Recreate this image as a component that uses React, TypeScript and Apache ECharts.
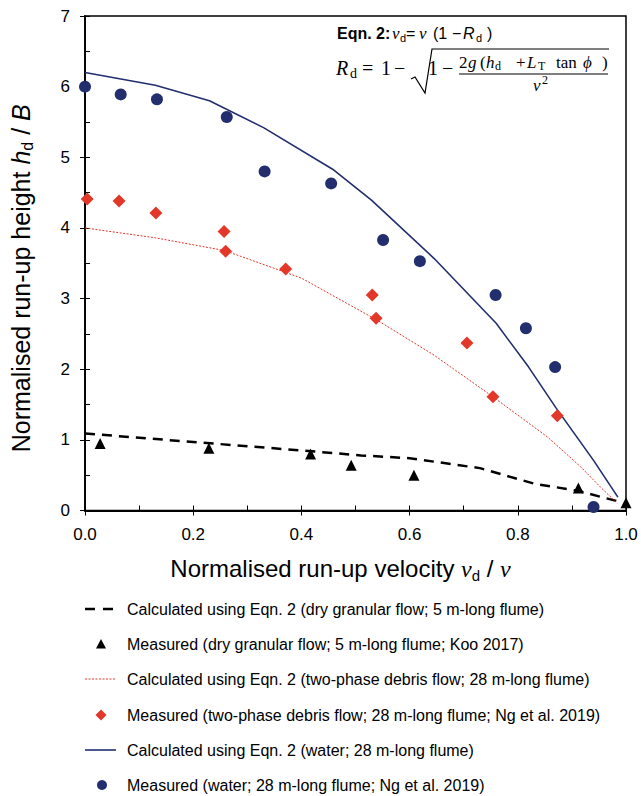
import React, { useEffect, useRef } from "react";
import * as echarts from "echarts";

// ---- data ----
const dryCalcX = [0, 0.2, 0.4, 0.51, 0.6, 0.73, 0.83, 0.91, 0.99];
const dryCalcY = [1.09, 0.97, 0.85, 0.78, 0.74, 0.6, 0.38, 0.28, 0.12];

const dryMeasX = [0.028, 0.229, 0.417, 0.492, 0.608, 0.912, 1.0];
const dryMeasY = [0.95, 0.88, 0.8, 0.64, 0.5, 0.32, 0.11];

const debrisCalcX = [0, 0.13, 0.258, 0.4, 0.541, 0.645, 0.754, 0.855, 0.916, 0.953, 0.984];
const debrisCalcY = [4.0, 3.86, 3.68, 3.29, 2.69, 2.2, 1.61, 1.04, 0.62, 0.33, 0.1];

const debrisMeasX = [0.004, 0.063, 0.131, 0.257, 0.26, 0.371, 0.531, 0.538, 0.706, 0.754, 0.873];
const debrisMeasY = [4.41, 4.38, 4.21, 3.95, 3.67, 3.42, 3.05, 2.72, 2.37, 1.61, 1.34];

const waterCalcX = [0, 0.13, 0.23, 0.33, 0.46, 0.53, 0.645, 0.76, 0.82, 0.87, 0.94, 0.985];
const waterCalcY = [6.2, 6.02, 5.8, 5.42, 4.82, 4.39, 3.57, 2.65, 2.03, 1.46, 0.71, 0.19];

const waterMeasX = [0, 0.066, 0.133, 0.262, 0.332, 0.455, 0.551, 0.619, 0.759, 0.815, 0.869, 0.94];
const waterMeasY = [6.0, 5.89, 5.82, 5.57, 4.8, 4.63, 3.83, 3.53, 3.05, 2.58, 2.03, 0.05];

const seriesNames = [
  "Calculated using Eqn. 2 (dry granular flow; 5 m-long flume)",
  "Measured (dry granular flow; 5 m-long flume; Koo 2017)",
  "Calculated using Eqn. 2 (two-phase debris flow; 28 m-long flume)",
  "Measured (two-phase debris flow; 28 m-long flume; Ng et al. 2019)",
  "Calculated using Eqn. 2 (water; 28 m-long flume)",
  "Measured (water; 28 m-long flume; Ng et al. 2019)",
];

const xRange = [0, 1];
const xStep = 0.2;
const yRange = [0, 7];
const yStep = 1;

const zip = (xs: number[], ys: number[]) => xs.map((x, i) => [x, ys[i]]);

const SANS = "'Liberation Sans', Arial, sans-serif";
const SERIF = "'Liberation Serif', 'DejaVu Serif', serif";
const NAVY = "#222e6e";
const RED = "#e2382a";

type Piece = [string, number, number, number, string?];

function textPieces(pieces: Piece[]) {
  return pieces.map(([t, x, y, size, st]) => {
    const s = st || "";
    const fam = s.includes("sans") ? SANS : SERIF;
    return {
      type: "text",
      x,
      y,
      style: {
        text: `{a|${t}}`,
        verticalAlign: "middle",
        align: "left",
        rich: {
          a: {
            fill: "#000",
            fontSize: size,
            fontFamily: fam,
            fontStyle: s.startsWith("i") ? "italic" : "normal",
            fontWeight: s.startsWith("b") ? "bold" : "normal",
          },
        },
      },
    };
  });
}

export default function App() {
  const ref = useRef<HTMLDivElement>(null);
  useEffect(() => {
    if (!ref.current) return;
    const chart = echarts.init(ref.current, null, { renderer: "svg" });

    const subRich = (size: number) => ({
      fontSize: size,
      verticalAlign: "bottom",
      lineHeight: Math.round(size * 0.75),
      fontFamily: SANS,
      color: "#000",
    });

    const baseAxis = { type: "value", splitLine: { show: false } };

    // equation pieces: [text, x, y(middle), size, style]
    const eqLine1: Piece[] = [
      ["Eqn. 2:", 337, 33, 16, "bsans"],
      ["ν", 392, 33, 17, "i"],
      ["d", 400, 38, 11, "sans"],
      ["=", 406, 33, 16, "sans"],
      ["ν", 419, 33, 17, "i"],
      ["(1", 433, 33, 16, "sans"],
      ["−", 452, 33, 16, "sans"],
      ["R", 463, 33, 16, "isans"],
      ["d", 476, 38, 11, "sans"],
      [")", 487, 33, 16, "sans"],
    ];
    const eqLine2: Piece[] = [
      ["R", 336, 68, 20, "i"],
      ["d", 350, 73, 14, ""],
      ["=", 362, 68, 20, ""],
      ["1", 381, 68, 20, ""],
      ["−", 394, 68, 20, ""],
      ["1", 428, 68, 20, ""],
      ["−", 442, 68, 20, ""],
      ["2", 459, 62, 17, ""],
      ["g", 468, 62, 17, "i"],
      ["(", 480, 62, 17, ""],
      ["h", 486, 62, 17, "i"],
      ["d", 495, 66, 12, ""],
      ["+", 516, 62, 17, ""],
      ["L", 527, 62, 17, "i"],
      ["T", 538, 66, 12, ""],
      ["tan", 556, 62, 17, ""],
      ["ϕ", 583, 62, 17, "i"],
      [")", 602, 62, 17, ""],
      ["ν", 533, 85, 17, "i"],
      ["2", 542, 80, 12, ""],
    ];

    // custom legend rows (y centres)
    const legendRows = [609, 644, 679, 715, 750, 785];
    const legendTextX = 127;
    const legendGraphics: any[] = [];
    seriesNames.forEach((name, i) => {
      legendGraphics.push({
        type: "text",
        x: legendTextX,
        y: legendRows[i],
        style: {
          text: name,
          fill: "#000",
          font: `16px ${SANS}`,
          verticalAlign: "middle",
        },
      });
    });
    const ly = legendRows;
    legendGraphics.push(
      {
        type: "line",
        shape: { x1: 85, y1: ly[0], x2: 114, y2: ly[0] },
        style: { stroke: "#000", lineWidth: 2.5, lineDash: [10, 8] },
      },
      {
        type: "polygon",
        shape: { points: [[96, ly[1] + 4.5], [101, ly[1] - 5], [106, ly[1] + 4.5]] },
        style: { fill: "#000" },
      },
      {
        type: "line",
        shape: { x1: 85, y1: ly[2], x2: 115, y2: ly[2] },
        style: { stroke: RED, lineWidth: 1, lineDash: [2, 1.5] },
      },
      {
        type: "polygon",
        shape: { points: [[101, ly[3] - 5.5], [106.5, ly[3]], [101, ly[3] + 5.5], [95.5, ly[3]]] },
        style: { fill: RED },
      },
      {
        type: "line",
        shape: { x1: 85, y1: ly[4], x2: 116, y2: ly[4] },
        style: { stroke: NAVY, lineWidth: 1.6 },
      },
      {
        type: "circle",
        shape: { cx: 102, cy: ly[5], r: 5 },
        style: { fill: NAVY },
      }
    );

    const option: any = {
      animation: false,
      backgroundColor: "#fff",
      grid: {
        left: 83,
        right: 15,
        top: 16,
        bottom: 285.5,
        show: true,
        borderColor: "#000",
        borderWidth: 1.5,
      },
      xAxis: [
        {
          ...baseAxis,
          min: xRange[0],
          max: xRange[1],
          interval: xStep,
          position: "bottom",
          axisLine: { show: true, lineStyle: { color: "#000", width: 1.8 } },
          axisTick: { show: true, inside: false, length: 5, lineStyle: { color: "#000", width: 1 } },
          axisLabel: {
            margin: 15,
            fontSize: 17,
            color: "#000",
            fontFamily: SANS,
            formatter: (v: number) => v.toFixed(1),
          },
          name: "{n|Normalised run-up velocity }{i|ν}{s|d}{n| / }{i|ν}",
          nameLocation: "middle",
          nameGap: 44,
          nameTextStyle: {
            padding: [0, 30, 0, 0],
            rich: {
              n: { fontSize: 24, fontFamily: SANS, color: "#000", lineHeight: 28 },
              i: { fontSize: 24, fontFamily: SERIF, fontStyle: "italic", color: "#000", lineHeight: 28 },
              s: subRich(15),
            },
          },
        },
        {
          ...baseAxis,
          min: xRange[0],
          max: xRange[1],
          interval: xStep,
          position: "bottom",
          axisLine: { show: false },
          axisLabel: { show: false },
          axisTick: { show: true, inside: true, length: 5, lineStyle: { color: "#000", width: 1 } },
          minorTick: { show: true, splitNumber: 2, length: 5, lineStyle: { color: "#000", width: 1 } },
        },
      ],
      yAxis: [
        {
          ...baseAxis,
          min: yRange[0],
          max: yRange[1],
          interval: yStep,
          position: "left",
          axisLine: { show: true, lineStyle: { color: "#000", width: 1.8 } },
          axisTick: { show: true, inside: false, length: 5, lineStyle: { color: "#000", width: 1 } },
          axisLabel: { margin: 15, fontSize: 17, color: "#000", fontFamily: SANS },
          name: "{n|Normalised run-up height }{ia|h}{s|d}{n| / }{ia|B}",
          nameLocation: "middle",
          nameGap: 50,
          nameTextStyle: {
            padding: [0, 30, 0, 0],
            rich: {
              n: { fontSize: 25, fontFamily: SANS, color: "#000", lineHeight: 29 },
              ia: { fontSize: 25, fontFamily: SANS, fontStyle: "italic", color: "#000", lineHeight: 29 },
              s: subRich(16),
            },
          },
        },
        {
          ...baseAxis,
          min: yRange[0],
          max: yRange[1],
          interval: yStep,
          position: "left",
          axisLine: { show: false },
          axisLabel: { show: false },
          axisTick: { show: true, inside: true, length: 5, lineStyle: { color: "#000", width: 1 } },
          minorTick: { show: true, splitNumber: 2, length: 5, lineStyle: { color: "#000", width: 1 } },
        },
      ],
      series: [
        {
          name: seriesNames[0],
          type: "line",
          data: zip(dryCalcX, dryCalcY),
          symbol: "none",
          lineStyle: { color: "#000", width: 2.5, type: [10, 7] },
          itemStyle: { color: "#000" },
          z: 3,
        },
        {
          name: seriesNames[1],
          type: "scatter",
          data: zip(dryMeasX, dryMeasY),
          symbol: "triangle",
          symbolSize: 11,
          itemStyle: { color: "#000", opacity: 1 },
          z: 4,
        },
        {
          name: seriesNames[2],
          type: "line",
          data: zip(debrisCalcX, debrisCalcY),
          symbol: "none",
          lineStyle: { color: RED, width: 1, type: [2, 1.5] },
          itemStyle: { color: RED },
          z: 3,
        },
        {
          name: seriesNames[3],
          type: "scatter",
          data: zip(debrisMeasX, debrisMeasY),
          symbol: "diamond",
          symbolSize: 13,
          itemStyle: { color: RED, opacity: 1 },
          z: 4,
        },
        {
          name: seriesNames[4],
          type: "line",
          data: zip(waterCalcX, waterCalcY),
          symbol: "none",
          lineStyle: { color: NAVY, width: 1.6 },
          itemStyle: { color: NAVY },
          z: 3,
        },
        {
          name: seriesNames[5],
          type: "scatter",
          data: zip(waterMeasX, waterMeasY),
          symbol: "circle",
          symbolSize: 12,
          itemStyle: { color: NAVY, opacity: 1 },
          z: 4,
        },
      ],
      graphic: [
        ...textPieces(eqLine1),
        ...textPieces(eqLine2),
        {
          type: "polyline",
          shape: { points: [[411, 79], [415, 77], [425, 93], [432, 49], [609, 49]] },
          style: { stroke: "#000", lineWidth: 1.2, fill: null },
        },
        {
          type: "line",
          shape: { x1: 459, y1: 74, x2: 608, y2: 74 },
          style: { stroke: "#000", lineWidth: 1 },
        },
        ...legendGraphics,
      ],
    };

    chart.setOption(option);
    return () => chart.dispose();
  }, []);

  return (
    <div
      ref={ref}
      style={{ position: "fixed", left: 0, top: 0, width: 641, height: 796, background: "#fff" }}
    />
  );
}
